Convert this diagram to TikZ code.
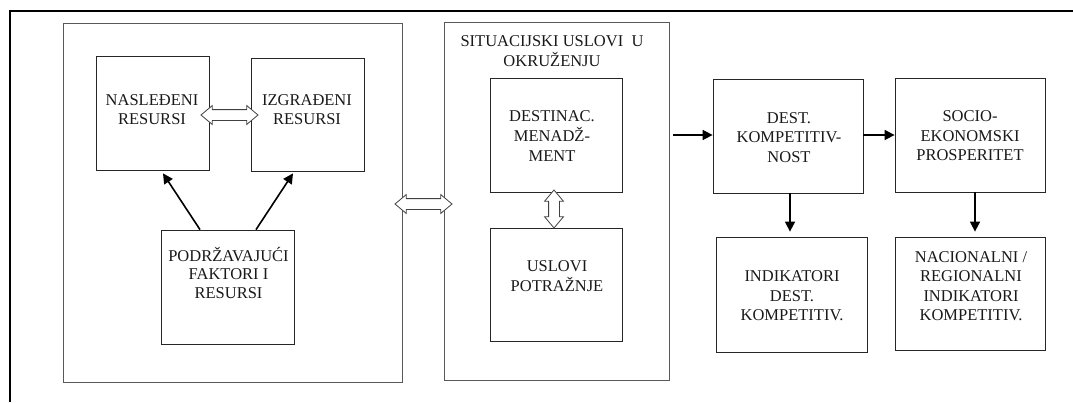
\documentclass[tikz,border=0pt]{standalone}
\usepackage{fontspec}
\setmainfont{Liberation Serif}
\usetikzlibrary{arrows.meta,shapes.arrows,calc}
% centred stack of lines whose reference point is the first baseline
\newcommand{\cellstack}[1]{\begin{tabular}[t]{@{}c@{}}#1\end{tabular}}

\begin{document}
\begin{tikzpicture}[x=1pt,y=-1pt,
  panel/.style={rectangle, draw=black!65, line width=1pt, inner sep=0pt},
  box/.style={rectangle, draw=black!85, line width=0.8pt, inner sep=0pt},
  lbl/.style={anchor=base, inner sep=0pt, text=black!90,
    font=\fontsize{16.5}{19.5}\selectfont},
  lbltight/.style={lbl, font=\fontsize{16.5}{18.5}\selectfont},
  arr/.style={line width=1.6pt, -{Triangle[length=10pt,width=10pt]}},
  twoway/.style={double arrow, draw=black!75, fill=white, line width=0.8pt,
    inner sep=0pt, text height=10pt, text depth=0pt, minimum width=18pt,
    double arrow head extend=4pt, double arrow tip angle=80},
]
\useasboundingbox (0,0) rectangle (1073,402);

% page frame
\draw[line width=1.6pt] (10,402) -- (10,11) -- (1073,11);

% resources panel
\node[panel, minimum width=339pt, minimum height=359pt] (core) at (232.5,202.5) {};
\node[box, minimum width=113pt, minimum height=114pt] (inherited) at (152.5,113) {};
\node[box, minimum width=113pt, minimum height=113pt] (built) at (307.5,114.5) {};
\node[box, minimum width=133pt, minimum height=114pt] (support) at (227.5,287) {};
\node[lbltight] (tInherited) at (152,105.7) {\cellstack{NASLEĐENI\\RESURSI}};
\node[lbltight] (tBuilt) at (307,105.7) {\cellstack{IZGRAĐENI\\RESURSI}};
\node[lbltight] (tSupport) at (228.5,261) {\cellstack{PODRŽAVAJUĆI\\FAKTORI I\\RESURSI}};

% situational conditions panel
\node[panel, minimum width=225pt, minimum height=358pt] (situ) at (556.5,201) {};
\node[lbl] (tSitu) at (552,46) {\cellstack{SITUACIJSKI USLOVI\ \ U\\OKRUŽENJU}};
\node[box, minimum width=132pt, minimum height=114pt] (mgmt) at (556,135) {};
\node[box, minimum width=132pt, minimum height=113pt] (demand) at (556,284.5) {};
\node[lbl] (tMgmt) at (552,121.7) {\cellstack{DESTINAC.\\MENADŽ-\\MENT}};
\node[lbl] (tDemand) at (557,271.7) {\cellstack{USLOVI\\POTRAŽNJE}};

% outcomes
\node[box, minimum width=150pt, minimum height=114pt] (comp) at (788,136) {};
\node[box, minimum width=150pt, minimum height=114pt] (prosp) at (970,135) {};
\node[box, minimum width=151pt, minimum height=115pt] (destind) at (791.5,294.5) {};
\node[box, minimum width=150pt, minimum height=113pt] (natind) at (970,293.5) {};
\node[lbl] (tComp) at (789,123.3) {\cellstack{DEST.\\KOMPETITIV-\\NOST}};
\node[lbl] (tProsp) at (970,121.7) {\cellstack{SOCIO-\\EKONOMSKI\\PROSPERITET}};
\node[lbl] (tDestind) at (792,281.7) {\cellstack{INDIKATORI\\DEST.\\KOMPETITIV.}};
\node[lbl] (tNatind) at (971,262) {\cellstack{NACIONALNI /\\REGIONALNI\\INDIKATORI\\KOMPETITIV.}};

% two-way links
\node[twoway, minimum height=57pt] (linkRes) at (229.5,115) {};
\node[twoway, minimum height=57pt] (linkPanels) at (423.5,204) {};
\node[twoway, minimum height=38pt, rotate=90] (linkSitu) at (554,209) {};

% one-way links
\draw[arr] ([xshift=-27.5pt]support.north) -- ([xshift=10.5pt,yshift=-3pt]inherited.south);
\draw[arr] ([xshift=28.5pt]support.north) -- ([xshift=-14.5pt,yshift=-2pt]built.south);
\coordinate (feed) at (673,135);
\draw[arr] (feed) -- (feed -| comp.west);
\draw[arr] ([yshift=1pt]comp.east) -- ([yshift=1pt]comp.east -| prosp.west);
\draw[arr, shorten >=5pt] ([xshift=2pt]comp.south) -- ([xshift=2pt]comp.south |- destind.north);
\draw[arr, shorten >=5pt] ([xshift=5pt]prosp.south) -- ([xshift=5pt]prosp.south |- natind.north);
\end{tikzpicture}
\end{document}
